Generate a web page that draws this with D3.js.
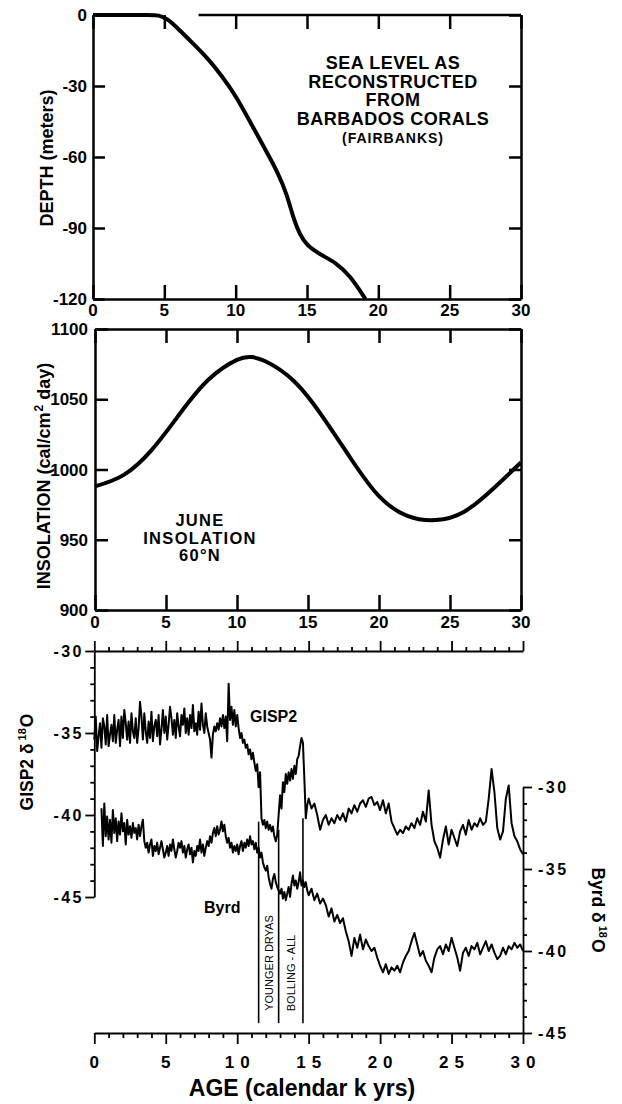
<!DOCTYPE html>
<html>
<head>
<meta charset="utf-8">
<script src="https://cdn.jsdelivr.net/npm/d3@7"></script>
<style>
body { margin: 0; background: #fff; }
svg text { font-family: "Liberation Sans", Arial, Helvetica, sans-serif; font-weight: bold; fill: #000; }
</style>
</head>
<body>
<div id="chart"></div>
<script>
// ---- data ----
var seaAge   = [0, 2, 4, 4.6, 5.2, 6, 7, 8, 9, 10, 11, 12, 13, 13.6, 14, 14.5, 15, 16, 17, 18, 19.1];
var seaDepth = [0, 0, 0, 0, -1.5, -6, -12, -18, -25.5, -34, -45, -56, -67, -76, -85, -93, -97.5, -101.5, -104.5, -110, -120];

var insAge   = [0, 2, 4, 6, 8, 10, 11, 12, 14, 16, 18, 20, 22, 24, 26, 28, 30];
var insValue = [988, 996, 1014, 1040, 1064, 1078, 1080, 1077, 1063, 1038, 1008, 981, 967, 964, 970, 986, 1005];

// GISP2 d18O, 0.0-14.9 ka every 0.1 ka, then 15-30 ka every 0.2 ka
var gispEarly = [
  -35.4, -34.0, -36.1, -35.2, -34.4, -35.9, -34.1, -34.6, -35.7, -33.9,
  -35.8, -35.1, -34.5, -35.5, -33.9, -35.6, -34.8, -34.2, -35.8, -34.0,
  -35.3, -33.6, -34.4, -35.4, -34.3, -35.6, -33.8, -34.9, -35.3, -34.1,
  -35.6, -34.7, -33.1, -34.0, -35.4, -33.8, -34.9, -35.6, -34.3, -35.3,
  -33.7, -35.5, -34.6, -34.2, -35.2, -33.9, -35.7, -34.8, -33.6, -35.0,
  -34.0, -35.4, -34.5, -33.4, -34.1, -35.1, -34.2, -35.3, -33.8, -34.6,
  -35.2, -33.9, -34.5, -33.5, -35.0, -34.1, -35.1, -33.9, -34.7, -33.3,
  -34.9, -34.4, -35.1, -33.7, -34.8, -33.2, -34.5, -35.0, -33.8, -34.6,
  -35.0, -35.4, -36.5, -35.1, -34.6, -34.9, -34.4, -34.8, -34.1, -34.6,
  -33.9, -34.7, -34.0, -35.5, -32.0, -34.2, -33.4, -34.5, -33.6, -34.6,
  -33.9, -34.7, -35.3, -35.0, -35.6, -35.4, -35.9, -35.7, -36.3, -36.0,
  -36.6, -36.2, -36.8, -37.3, -36.9, -38.3, -37.4, -40.2, -40.6, -40.3,
  -40.8, -40.4, -40.9, -40.6, -41.0, -40.7, -41.3, -41.6, -41.2, -40.0,
  -38.8, -39.6, -38.0, -38.6, -37.5, -38.1, -37.4, -37.9, -37.2, -37.8,
  -37.0, -37.5, -36.6, -36.4, -35.8, -35.3, -35.6, -37.8, -40.2, -39.4
];
var gispLate = [
  -39.0, -39.6, -39.3, -40.0, -40.9, -40.3, -40.0, -40.6, -40.2, -40.5,
  -40.0, -40.3, -39.9, -40.4, -39.6, -39.9, -39.4, -39.8, -39.3, -39.1,
  -39.5, -39.0, -38.9, -39.4, -39.2, -39.7, -39.1, -39.9, -39.3, -40.4,
  -40.8, -41.2, -40.9, -41.1, -40.7, -40.9, -40.5, -40.8, -40.2, -40.6,
  -39.8, -40.4, -38.5, -40.6, -41.6, -42.0, -42.6, -41.5, -40.7, -41.8,
  -40.9, -41.4, -41.9, -41.0, -40.6, -41.2, -40.3, -40.9, -40.5, -40.7,
  -40.2, -40.6, -40.4, -39.0, -37.2, -38.6, -40.8, -41.5, -41.0, -39.0,
  -38.2, -40.5, -41.3, -41.6, -42.1, -42.4
];

// Byrd d18O, 0.5-14.9 ka every 0.1 ka, then 15-30 ka every 0.2 ka
var byrdEarly = [
  -31.3, -33.6, -31.0, -33.0, -31.8, -33.2, -32.0, -33.4, -31.4, -32.8,
  -31.9, -33.3, -32.1, -32.9, -31.6, -32.7, -32.2, -33.5, -32.0, -32.9,
  -32.4, -33.1, -32.2, -32.8, -32.5, -33.2, -32.3, -33.0, -32.4, -32.0,
  -33.3, -33.7, -33.4, -34.0, -33.5, -33.2, -34.2, -33.6, -33.9, -33.4,
  -34.1, -33.7, -33.3, -33.8, -34.3, -34.0, -33.6, -34.2, -33.5, -33.9,
  -33.2, -33.8, -34.3, -33.9, -33.4, -33.7, -33.3, -34.0, -33.6, -34.3,
  -33.8, -33.5, -34.1, -33.7, -34.6, -33.9, -34.2, -33.6, -33.9, -33.2,
  -34.0, -33.5, -34.2, -33.7, -33.3, -33.6, -33.0, -33.4, -32.8, -32.5,
  -33.0, -32.4, -32.9, -32.6, -32.1, -32.7, -32.3, -33.0, -33.4, -33.1,
  -33.7, -33.4, -34.0, -33.6, -33.9, -33.5, -34.1, -33.6, -33.3, -33.9,
  -33.4, -33.7, -33.2, -33.6, -33.0, -33.5, -33.3, -33.8, -33.4, -34.0,
  -33.7, -34.3, -34.0, -34.6, -34.9, -35.1, -34.8, -35.5, -35.9, -36.2,
  -35.6, -35.3, -35.8, -36.1, -36.3, -36.5, -36.2, -36.8, -36.4, -36.9,
  -36.5, -36.1, -36.7, -35.9, -35.4, -36.0, -35.7, -36.2, -35.8, -35.2,
  -36.0, -35.7, -36.1, -35.8, -36.3
];
var byrdLate = [
  -36.6, -36.2, -36.9, -36.5, -37.1, -36.8, -37.2, -37.9, -37.4, -38.2,
  -37.8, -38.3, -38.0, -38.8, -39.4, -40.3, -39.2, -39.8, -39.0, -39.9,
  -39.3, -39.7, -40.0, -39.8, -40.4, -40.9, -41.3, -40.8, -41.4, -41.0,
  -41.2, -40.9, -41.3, -40.7, -40.3, -40.0, -39.4, -38.9, -39.6, -40.3,
  -40.0, -40.6, -40.9, -41.3, -40.4, -39.9, -39.7, -40.2, -39.6, -40.0,
  -39.2, -39.8, -40.4, -41.2, -40.1, -39.8, -40.3, -39.7, -39.9, -39.5,
  -40.2, -39.8, -39.4, -40.0, -39.6, -40.1, -40.5, -40.3, -39.8, -40.2,
  -39.7, -39.9, -39.5, -39.8, -39.6, -40.0
];

var ageTicks = [0, 5, 10, 15, 20, 25, 30];
var depthTicks = [0, -30, -60, -90, -120];
var insTicks = [900, 950, 1000, 1050, 1100];
var isoTicks = [-30, -35, -40, -45];
var eventAges = [11.5, 12.9, 14.6];       // Younger Dryas / Bolling-Allerod boundaries
var eventTops = [-40.4, -40.9, -40.2];    // upper end, GISP2 scale

function series(start, step, vals) {
  return vals.map(function(v, i){ return [+(start + i * step).toFixed(1), v]; });
}
var gisp = series(0, 0.1, gispEarly).concat(series(15, 0.2, gispLate));
var byrd = series(0.5, 0.1, byrdEarly).concat(series(15, 0.2, byrdLate));

var svg = d3.select("#chart").append("svg")
      .attr("width", 622)
      .attr("height", 1104);

function styleAxis(g, w) {
  g.selectAll("path.domain").attr("stroke", "#000").attr("stroke-width", w);
  g.selectAll(".tick line").attr("stroke", "#000").attr("stroke-width", w);
  g.selectAll("text").remove();
}

function tickText(parent, vals, fx, fy, anchor, size, spacing) {
  parent.append("g").selectAll("text").data(vals).enter().append("text")
    .attr("x", fx).attr("y", fy)
    .attr("text-anchor", anchor)
    .attr("font-size", size)
    .attr("letter-spacing", spacing || 0)
    .text(function(d){ return String(d); });
}

// ================= panel 1 : sea level =================
var x1 = d3.scaleLinear().domain([0, 30]).range([93, 521]);
var y1 = d3.scaleLinear().domain([-120, 0]).range([299, 15]);

var p1 = svg.append("g").attr("class", "panel1");
p1.append("g").attr("transform", "translate(0," + y1(-120) + ")")
  .call(d3.axisBottom(x1).tickValues(ageTicks).tickSizeInner(-14).tickSizeOuter(0))
  .call(styleAxis, 2.5);
var p1top = p1.append("g").attr("transform", "translate(0," + y1(0) + ")")
  .call(d3.axisTop(x1).tickValues(ageTicks).tickSizeInner(-14).tickSizeOuter(0))
  .call(styleAxis, 2.5);
p1top.select("path.domain").remove();
p1.append("line")
  .attr("x1", x1(7.4)).attr("x2", x1(30))
  .attr("y1", y1(0)).attr("y2", y1(0))
  .attr("stroke", "#000").attr("stroke-width", 2.5);
p1.append("g").attr("transform", "translate(" + x1(0) + ",0)")
  .call(d3.axisLeft(y1).tickValues(depthTicks).tickSizeInner(-12).tickSizeOuter(0))
  .call(styleAxis, 2.5);
p1.append("g").attr("transform", "translate(" + x1(30) + ",0)")
  .call(d3.axisRight(y1).tickValues(depthTicks).tickSizeInner(-12).tickSizeOuter(0))
  .call(styleAxis, 2.5);

tickText(p1, ageTicks, function(d){ return x1(d); }, 316, "middle", 17);
tickText(p1, depthTicks, 87, function(d){ return y1(d) + 6; }, "end", 17);

p1.append("path")
  .datum(d3.zip(seaAge, seaDepth))
  .attr("d", d3.line().x(function(d){ return x1(d[0]); }).y(function(d){ return y1(d[1]); }).curve(d3.curveBasis))
  .attr("fill", "none").attr("stroke", "#000").attr("stroke-width", 4);

p1.append("text")
  .attr("transform", "translate(53,158) rotate(-90)")
  .attr("text-anchor", "middle").attr("font-size", 18)
  .text("DEPTH (meters)");

var seaNote = ["SEA LEVEL AS", "RECONSTRUCTED", "FROM", "BARBADOS CORALS"];
p1.append("g").selectAll("text").data(seaNote).enter().append("text")
  .attr("x", 393).attr("y", function(d, i){ return 69 + i * 18.5; })
  .attr("text-anchor", "middle").attr("font-size", 18)
  .attr("letter-spacing", 0.5)
  .text(function(d){ return d; });
p1.append("text")
  .attr("x", 393).attr("y", 143)
  .attr("text-anchor", "middle").attr("font-size", 14)
  .attr("letter-spacing", 1)
  .text("(FAIRBANKS)");

// ================= panel 2 : insolation =================
var x2 = d3.scaleLinear().domain([0, 30]).range([95, 521]);
var y2 = d3.scaleLinear().domain([900, 1100]).range([610, 329]);

var p2 = svg.append("g").attr("class", "panel2");
p2.append("g").attr("transform", "translate(0," + y2(900) + ")")
  .call(d3.axisBottom(x2).tickValues(ageTicks).tickSizeInner(-15).tickSizeOuter(0))
  .call(styleAxis, 2.5);
p2.append("g").attr("transform", "translate(0," + y2(1100) + ")")
  .call(d3.axisTop(x2).tickValues(ageTicks).tickSizeInner(-14).tickSizeOuter(0))
  .call(styleAxis, 2.5);
p2.append("g").attr("transform", "translate(" + x2(0) + ",0)")
  .call(d3.axisLeft(y2).tickValues(insTicks).tickSizeInner(-13).tickSizeOuter(0))
  .call(styleAxis, 2.5);
p2.append("g").attr("transform", "translate(" + x2(30) + ",0)")
  .call(d3.axisRight(y2).tickValues(insTicks).tickSizeInner(-12).tickSizeOuter(0))
  .call(styleAxis, 2.5);

tickText(p2, ageTicks, function(d){ return x2(d); }, 628, "middle", 17);
tickText(p2, insTicks, 88, function(d){ return y2(d) + 6; }, "end", 17);

p2.append("path")
  .datum(d3.zip(insAge, insValue))
  .attr("d", d3.line().x(function(d){ return x2(d[0]); }).y(function(d){ return y2(d[1]); }).curve(d3.curveNatural))
  .attr("fill", "none").attr("stroke", "#000").attr("stroke-width", 4);

var insLabel = p2.append("text")
  .attr("transform", "translate(50,476) rotate(-90)")
  .attr("text-anchor", "middle").attr("font-size", 18);
insLabel.append("tspan").text("INSOLATION (cal/cm");
insLabel.append("tspan").attr("font-size", 12).attr("dy", -7).attr("dx", 1).text("2");
insLabel.append("tspan").attr("dy", 7).text(" day)");

var junNote = ["JUNE", "INSOLATION", "60°N"];
p2.append("g").selectAll("text").data(junNote).enter().append("text")
  .attr("x", 200).attr("y", function(d, i){ return 526 + i * 17.5; })
  .attr("text-anchor", "middle").attr("font-size", 16.5)
  .attr("letter-spacing", 1.3)
  .text(function(d){ return d; });

// ================= panel 3 : ice cores =================
var x3 = d3.scaleLinear().domain([0, 30]).range([94.3, 523]);
var yG = d3.scaleLinear().domain([-45, -30]).range([897, 651]);
var yB = d3.scaleLinear().domain([-45, -30]).range([1033, 787]);
var ageMinor = d3.range(0, 31);
var isoMinor = d3.range(-45, -29);

function majorMinor(g, attr, major, minor) {
  g.selectAll(".tick line").attr(attr, function(d){ return d % 5 === 0 ? major : minor; });
}

var p3 = svg.append("g").attr("class", "panel3");
var gTop = p3.append("g").attr("transform", "translate(0," + yG(-30) + ")")
  .call(d3.axisTop(x3).tickValues(ageMinor).tickSizeInner(4).tickSizeOuter(0))
  .call(styleAxis, 1.8);
majorMinor(gTop, "y2", -10, -4);

var gBot = p3.append("g").attr("transform", "translate(0," + yB(-45) + ")")
  .call(d3.axisBottom(x3).tickValues(ageMinor).tickSizeInner(4).tickSizeOuter(0))
  .call(styleAxis, 1.8);
majorMinor(gBot, "y2", 11, 5);

var gLeft = p3.append("g").attr("transform", "translate(" + x3(0) + ",0)")
  .call(d3.axisLeft(yG).tickValues(isoMinor).tickSizeInner(4).tickSizeOuter(0))
  .call(styleAxis, 1.8);
majorMinor(gLeft, "x2", -9, -4);

var gRight = p3.append("g").attr("transform", "translate(" + x3(30) + ",0)")
  .call(d3.axisRight(yB).tickValues(isoMinor).tickSizeInner(4).tickSizeOuter(0))
  .call(styleAxis, 1.8);
majorMinor(gRight, "x2", 9, 4);

tickText(p3, isoTicks, 84, function(d){ return yG(d) + 6; }, "end", 16, 2.5);
tickText(p3, isoTicks, 538, function(d){ return yB(d) + 6; }, "start", 16, 2.5);
tickText(p3, ageTicks, function(d){ return x3(d) + 3; }, 1068, "middle", 17, 6);

var isoLine = function(ys){
  return d3.line().x(function(d){ return x3(d[0]); }).y(function(d){ return ys(d[1]); });
};
p3.append("path").datum(gisp)
  .attr("d", isoLine(yG))
  .attr("fill", "none").attr("stroke", "#000").attr("stroke-width", 2)
  .attr("stroke-linejoin", "round");
p3.append("path").datum(byrd)
  .attr("d", isoLine(yB))
  .attr("fill", "none").attr("stroke", "#000").attr("stroke-width", 2)
  .attr("stroke-linejoin", "round");

p3.append("g").selectAll("line").data(eventAges).enter().append("line")
  .attr("x1", function(d){ return x3(d); }).attr("x2", function(d){ return x3(d); })
  .attr("y1", function(d, i){ return yG(eventTops[i]); })
  .attr("y2", yB(-44.4))
  .attr("stroke", "#000").attr("stroke-width", 1.6);

var eventNames = ["YOUNGER DRYAS", "BOLLING - ALL"];
var eventMid = [12.2, 13.75];
var eventY = [963, 973];
p3.append("g").selectAll("text").data(eventNames).enter().append("text")
  .attr("transform", function(d, i){ return "translate(" + x3(eventMid[i]) + "," + eventY[i] + ") rotate(-90)"; })
  .attr("text-anchor", "middle").attr("dominant-baseline", "central")
  .attr("font-size", 11)
  .style("font-weight", "normal")
  .text(function(d){ return d; });

p3.append("text").attr("x", 250).attr("y", 722).attr("font-size", 16).text("GISP2");
p3.append("text").attr("x", 204).attr("y", 913).attr("font-size", 16).text("Byrd");

function isoLabel(g, name, tr) {
  var t = g.append("text").attr("transform", tr)
    .attr("text-anchor", "middle").attr("font-size", 17.5);
  t.append("tspan").text(name + " δ");
  t.append("tspan").attr("font-size", 11).attr("dy", -7).attr("dx", 3).text("18");
  t.append("tspan").attr("dy", 7).attr("dx", 1).text("O");
}
isoLabel(p3, "GISP2", "translate(33,762) rotate(-90)");
isoLabel(p3, "Byrd", "translate(592,910) rotate(90)");

p3.append("text")
  .attr("x", 302).attr("y", 1096)
  .attr("text-anchor", "middle").attr("font-size", 23)
  .text("AGE (calendar k yrs)");
</script>
</body>
</html>
